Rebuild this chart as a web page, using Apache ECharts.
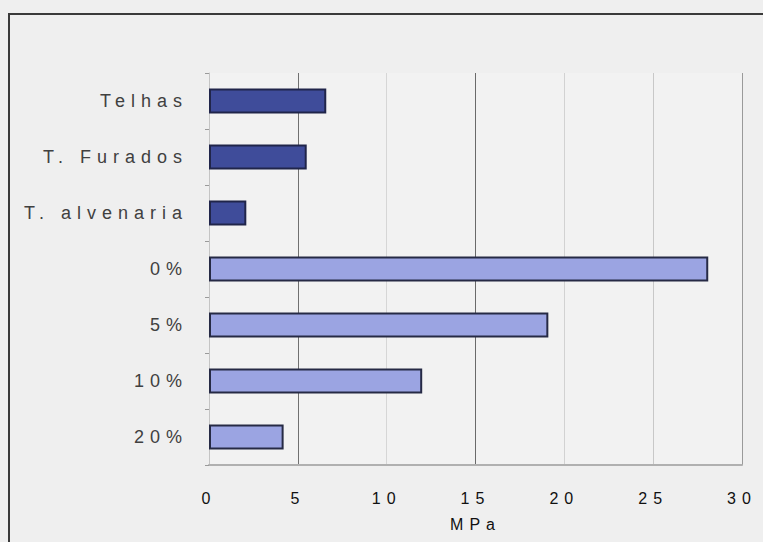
<!DOCTYPE html>
<html>
<head>
<meta charset="utf-8">
<script src="https://cdn.jsdelivr.net/npm/echarts@6/dist/echarts.min.js"></script>
<style>
  html, body { margin: 0; padding: 0; background: #efefef; }
  #chart { width: 763px; height: 542px; }
  /* wide letter spacing on axis texts */
  #chart svg text { letter-spacing: 6px; }
</style>
</head>
<body>
<div id="chart"></div>
<script>
// Compressive strength (MPa) per material
const categories = ['Telhas', 'T. Furados', 'T. alvenaria', '0%', '5%', '10%', '20%'];
const strengths = [6.6, 5.5, 2.1, 28.1, 19.1, 12.0, 4.2];
const groups = ['ceramic', 'ceramic', 'ceramic', 'mix', 'mix', 'mix', 'mix'];
const xTicks = { min: 0, max: 30, interval: 5 };
const axisName = 'MPa';

const palette = {
  ceramic: { fill: '#3f4c9a', border: '#20254a' },
  mix: { fill: '#9ba4e2', border: '#262a45' }
};

const chart = echarts.init(document.getElementById('chart'), null, { renderer: 'svg' });

chart.setOption({
  backgroundColor: '#efefef',
  animation: false,
  grid: { left: 209, right: 21, top: 73, bottom: 77, containLabel: false,
          show: true, backgroundColor: '#f2f2f2', borderWidth: 0 },
  xAxis: {
    type: 'value',
    min: xTicks.min, max: xTicks.max, interval: xTicks.interval,
    name: axisName, nameLocation: 'middle', nameGap: 51,
    nameTextStyle: { color: '#111', fontSize: 16, fontFamily: 'Liberation Sans' },
    axisLine: { show: true, lineStyle: { color: '#b0b0b0', width: 2 } },
    axisTick: { show: false },
    axisLabel: { color: '#111', fontSize: 16, margin: 25, fontFamily: 'Liberation Sans' },
    splitLine: { show: true, lineStyle: {
      color: ['#cfcfcf', '#707070', '#d6d6d6', '#6a6a6a', '#d2d2d2', '#c8c8c8', '#9a9a9a'],
      width: 1 } }
  },
  yAxis: {
    type: 'category',
    data: categories,
    inverse: true,
    axisLine: { show: true, lineStyle: { color: '#c4c4c4', width: 1 } },
    axisTick: { show: true, length: 4, lineStyle: { color: '#9a9a9a' } },
    axisLabel: { color: '#404040', fontSize: 18, margin: 21, fontFamily: 'Liberation Sans' },
    splitLine: { show: false }
  },
  series: [{
    type: 'bar',
    barWidth: 25,
    data: strengths.map((v, i) => ({
      value: v,
      itemStyle: {
        color: palette[groups[i]].fill,
        borderColor: palette[groups[i]].border,
        borderWidth: 2
      }
    }))
  }],
  graphic: [{
    type: 'polyline',
    silent: true,
    shape: { points: [[9, 542], [9, 14], [763, 14]] },
    style: { stroke: '#3a3a3a', lineWidth: 2, fill: null }
  }]
});
</script>
</body>
</html>
